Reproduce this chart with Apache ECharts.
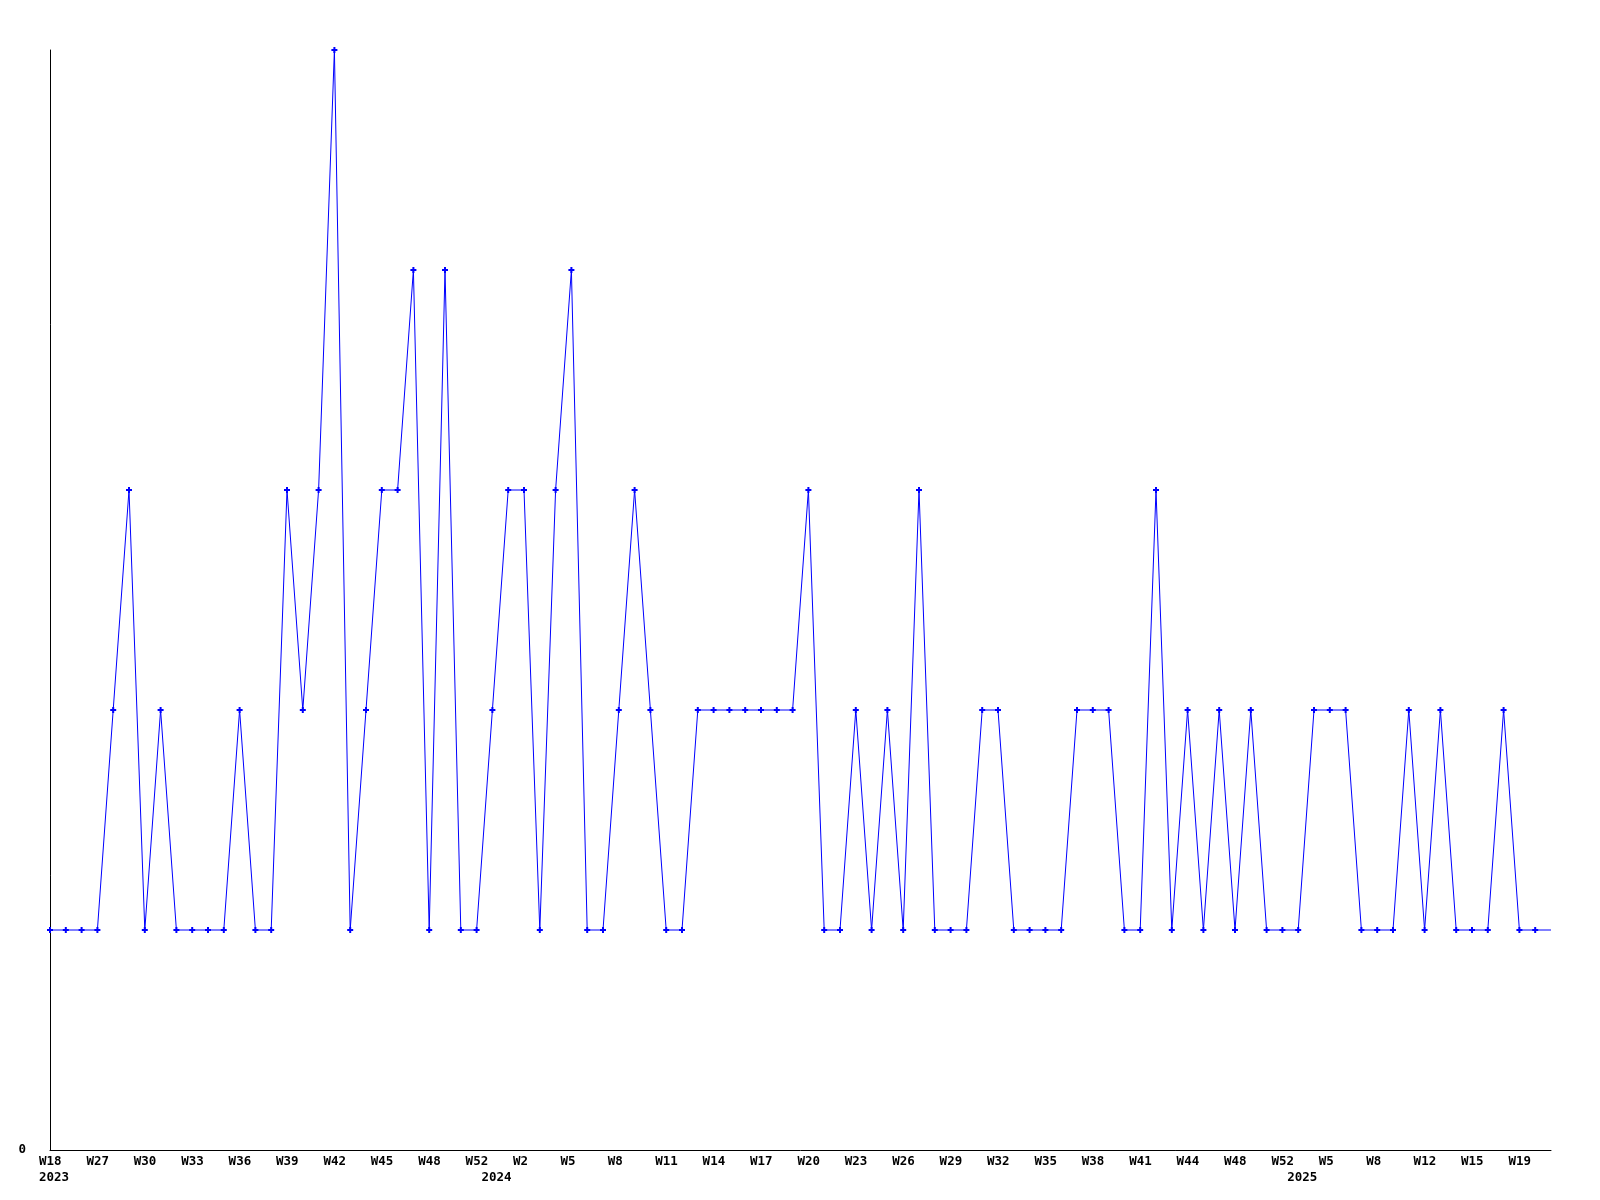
<!DOCTYPE html>
<html>
<head>
<meta charset="utf-8">
<style>
  html, body { margin: 0; padding: 0; background: #ffffff; }
  #chart { width: 1600px; height: 1200px; }
</style>
<script src="https://cdn.jsdelivr.net/npm/echarts@6/dist/echarts.min.js"></script>
</head>
<body>
<div id="chart"></div>
<script>
// Week categories (only every third one is labelled on the axis)
const weeks = [
  'W18','W22','W25','W27','W28','W29','W30','W31','W32','W33',
  'W34','W35','W36','W37','W38','W39','W40','W41','W42','W43',
  'W44','W45','W46','W47','W48','W49','W50','W52','W0','W1',
  'W2','W3','W4','W5','W6','W7','W8','W9','W10','W11',
  'W12','W13','W14','W15','W16','W17','W18','W19','W20','W21',
  'W22','W23','W24','W25','W26','W27','W28','W29','W30','W31',
  'W32','W33','W34','W35','W36','W37','W38','W39','W40','W41',
  'W42','W43','W44','W45','W46','W48','W49','W50','W52','W0',
  'W3','W5','W6','W7','W8','W9','W10','W12','W13','W14',
  'W15','W16','W17','W19','W20','W21'
];
// Year marks: category index -> year shown under the axis
const yearIndex = [0, 28, 79];
const yearLabel = ['2023', '2024', '2025'];

// Weekly counts
const counts = [
  1,1,1,1,2,3,1,2,1,1,
  1,1,2,1,1,3,2,3,5,1,
  2,3,3,4,1,4,1,1,2,3,
  3,1,3,4,1,1,2,3,2,1,
  1,2,2,2,2,2,2,2,3,1,
  1,2,1,2,1,3,1,1,1,2,
  2,1,1,1,1,2,2,2,1,1,
  3,1,2,1,2,1,2,1,1,1,
  2,2,2,1,1,1,2,1,2,1,
  1,1,2,1,1,1
];

const plus = 'path://M2,0H4V2H6V4H4V6H2V4H0V2H2Z';
const lastIdx = counts.length - 1;

const chart = echarts.init(document.getElementById('chart'), null, { renderer: 'canvas' });
chart.setOption({
  animation: false,
  backgroundColor: '#ffffff',
  grid: { left: 50, right: 49, top: 50, bottom: 50, containLabel: false },
  xAxis: {
    type: 'category',
    data: weeks,
    boundaryGap: false,
    axisLine: { show: true, lineStyle: { color: '#000000', width: 1 } },
    axisTick: { show: false },
    splitLine: { show: false },
    axisLabel: {
      interval: function (idx) { return idx % 3 === 0 || yearIndex.indexOf(idx) >= 0; },
      formatter: function (val, idx) {
        const wk = idx % 3 === 0 ? val : '';
        const yi = yearIndex.indexOf(idx);
        return yi >= 0 ? wk + '\n' + yearLabel[yi] : wk;
      },
      align: 'left',
      padding: [0, 0, 0, -11],
      color: '#000000',
      fontFamily: 'DejaVu Sans Mono',
      fontWeight: 'bold',
      fontSize: 12.5,
      lineHeight: 16,
      margin: 4
    }
  },
  yAxis: {
    type: 'value',
    min: 0,
    max: 5,
    interval: 1,
    axisLine: { show: true, lineStyle: { color: '#000000', width: 1 } },
    axisTick: { show: false },
    splitLine: { show: false },
    axisLabel: {
      formatter: function (v) { return v === 0 ? '0' : ''; },
      color: '#000000',
      fontFamily: 'DejaVu Sans Mono',
      fontWeight: 'bold',
      fontSize: 12.5,
      margin: 24
    }
  },
  series: [{
    type: 'line',
    data: counts,
    symbol: function (v, p) { return p.dataIndex === lastIdx ? 'none' : plus; },
    symbolSize: 6,
    showAllSymbol: true,
    lineStyle: { color: '#0000ff', width: 1 },
    itemStyle: { color: '#0000ff' },
    clip: false
  }]
});
</script>
</body>
</html>
